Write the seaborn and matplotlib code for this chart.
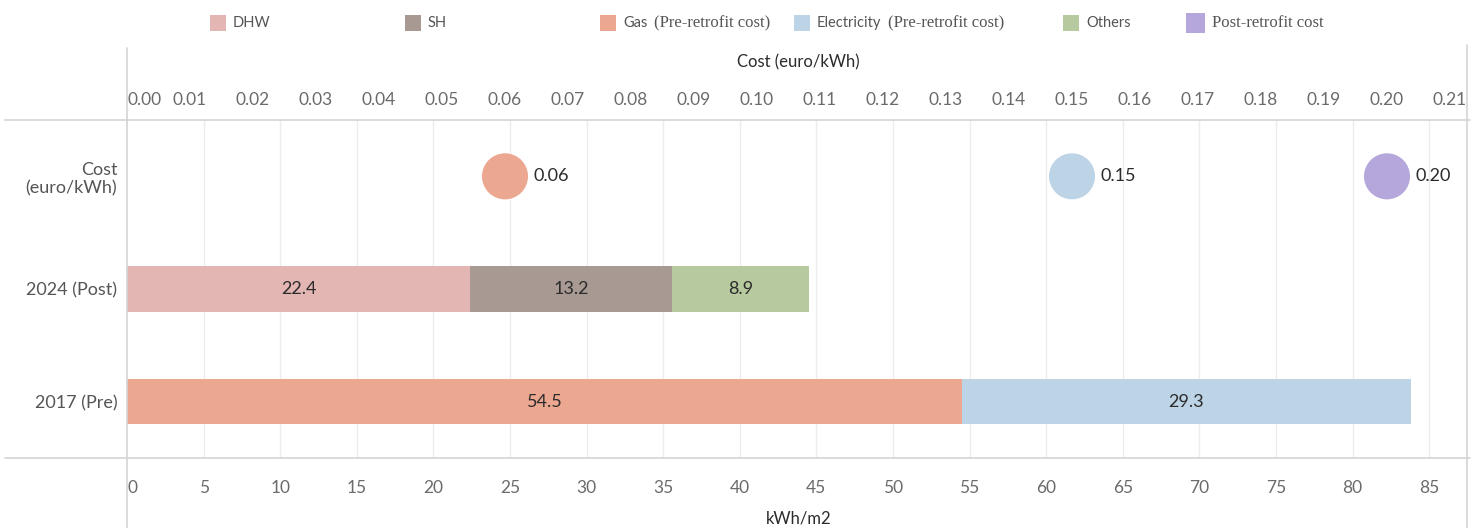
import matplotlib
matplotlib.use("Agg")
import matplotlib.pyplot as plt
import seaborn as sns
import pandas as pd
from matplotlib.patches import Rectangle
from matplotlib.lines import Line2D

# ---- data -------------------------------------------------------------
row_labels = ["2017 (Pre)", "2024 (Post)", "Cost\n(euro/kWh)"]

post_segments = ["DHW", "SH", "Others"]
post_values = [22.4, 13.2, 8.9]

pre_segments = ["Gas", "Electricity"]
pre_values = [54.5, 29.3]

cost_kinds = ["Gas", "Electricity", "Post-retrofit"]
cost_values = [0.06, 0.15, 0.20]

energy_ticks = list(range(0, 90, 5))
cost_ticks = [round(i * 0.01, 2) for i in range(22)]

colors = {
    "DHW": "#E3B5B3",
    "SH": "#A89A92",
    "Others": "#B7CA9F",
    "Gas": "#ECA791",
    "Electricity": "#BDD4E7",
    "Post-retrofit": "#B5A7DB",
}

# ---- figure -----------------------------------------------------------
W, H, DPI = 1483, 528, 100
sns.set_theme(style="white")
plt.rcParams["font.family"] = ["Lato", "DejaVu Sans"]

fig = plt.figure(figsize=(W / DPI, H / DPI), dpi=DPI)
left, right, top, bottom = 127, 1470, 120, 458
ax = fig.add_axes([left / W, 1 - bottom / H, (right - left) / W, (bottom - top) / H])

def fx(px):
    return px / W

def fy(py):
    return 1 - py / H

TICK_COLOR = "#6b6b6b"
TEXT_COLOR = "#2b2b2b"
GRID_COLOR = "#ececec"
FRAME_COLOR = "#d4d4d4"

ax.set_xlim(0, (right - left) / 15.32)
ax.set_ylim(-0.5, 2.5)

# vertical grid from the energy axis
for t in energy_ticks[1:]:
    ax.axvline(t, color=GRID_COLOR, lw=1, zorder=0)

# stacked bars
bar_h = 0.40
y_pre, y_post, y_cost = 0, 1, 2

def stacked(values, names, y):
    start = 0.0
    for v, n in zip(values, names):
        ax.barh(y, v, left=start, height=bar_h, color=colors[n], edgecolor="none", zorder=2)
        ax.text(start + v / 2, y, f"{v:.1f}", ha="center", va="center",
                fontsize=13, color=TEXT_COLOR, zorder=3)
        start += v

stacked(pre_values, pre_segments, y_pre)
stacked(post_values, post_segments, y_post)

# cost axis on top with bubbles
ax2 = ax.twiny()
ax2.set_xlim(0, (right - left) / 6300)
ax2.set_ylim(-0.5, 2.5)
cost_df = pd.DataFrame({"cost": cost_values, "kind": cost_kinds, "row": [y_cost] * 3})
sns.scatterplot(data=cost_df, x="cost", y="row", hue="kind", palette=colors,
                s=1100, linewidth=0, legend=False, ax=ax2, zorder=4, alpha=1)
for v in cost_values:
    ax2.annotate(f"{v:.2f}", (v, y_cost), xytext=(20.5, 0), textcoords="offset points",
                 ha="left", va="center", fontsize=13, color=TEXT_COLOR)

# ---- axes styling ------------------------------------------------------
ax.set_yticks([y_pre, y_post, y_cost])
ax.set_yticklabels(row_labels, fontsize=13, color="#555555")
ax.tick_params(axis="y", length=0, pad=7)

ax.set_xticks(energy_ticks)
ax.set_xticklabels([str(t) for t in energy_ticks], fontsize=12.5, color=TICK_COLOR)
ax.tick_params(axis="x", length=0, pad=16)
ax.get_xticklabels()[0].set_ha("left")
ax.set_xlabel("kWh/m2", fontsize=12, color=TEXT_COLOR, labelpad=10)

ax2.set_xticks(cost_ticks)
ax2.set_xticklabels([f"{t:.2f}" for t in cost_ticks], fontsize=12.5, color=TICK_COLOR)
ax2.tick_params(axis="x", length=0, pad=8.5)
ax2.get_xticklabels()[0].set_ha("left")
ax2.set_xlabel("Cost (euro/kWh)", fontsize=12, color=TEXT_COLOR, labelpad=18)
ax2.set_ylabel("")
ax.set_ylabel("")

for a in (ax, ax2):
    for s in a.spines.values():
        s.set_visible(False)

# frame lines around the header and footer
frame = [
    ((5, right), (top, top)),
    ((5, right), (bottom, bottom)),
    ((left, left), (48, H)),
    ((right - 3, right - 3), (45, H)),
]
for xs, ys in frame:
    fig.add_artist(Line2D([fx(xs[0]), fx(xs[1])], [fy(ys[0]), fy(ys[1])],
                          color=FRAME_COLOR, lw=1.2))

# ---- legend -------------------------------------------------------------
legend_items = [
    (210, "DHW", "DHW", None, 16),
    (405, "SH", "SH", None, 16),
    (600, "Gas", "Gas", "(Pre-retrofit cost)", 16),
    (794, "Electricity", "Electricity", "(Pre-retrofit cost)", 16),
    (1063, "Others", "Others", None, 16),
    (1186, "Post-retrofit", None, "Post-retrofit cost", 19),
]
ly = 23
for x0, key, sans, serif, sz in legend_items:
    fig.add_artist(Rectangle((fx(x0), fy(ly + sz / 2)), sz / W, sz / H,
                             transform=fig.transFigure, color=colors[key], lw=0))
    tx = x0 + sz + 7
    if sans:
        t = fig.text(fx(tx), fy(ly), sans, ha="left", va="center",
                     fontsize=10.5, color="#555555")
        fig.canvas.draw()
        bb = t.get_window_extent()
        tx = bb.x1 + 7
    if serif:
        fig.text(fx(tx), fy(ly), serif, ha="left", va="center", fontsize=12,
                 color="#555555", family=["Liberation Serif", "DejaVu Serif"])

fig.savefig("out.png", dpi=DPI, facecolor="white")
